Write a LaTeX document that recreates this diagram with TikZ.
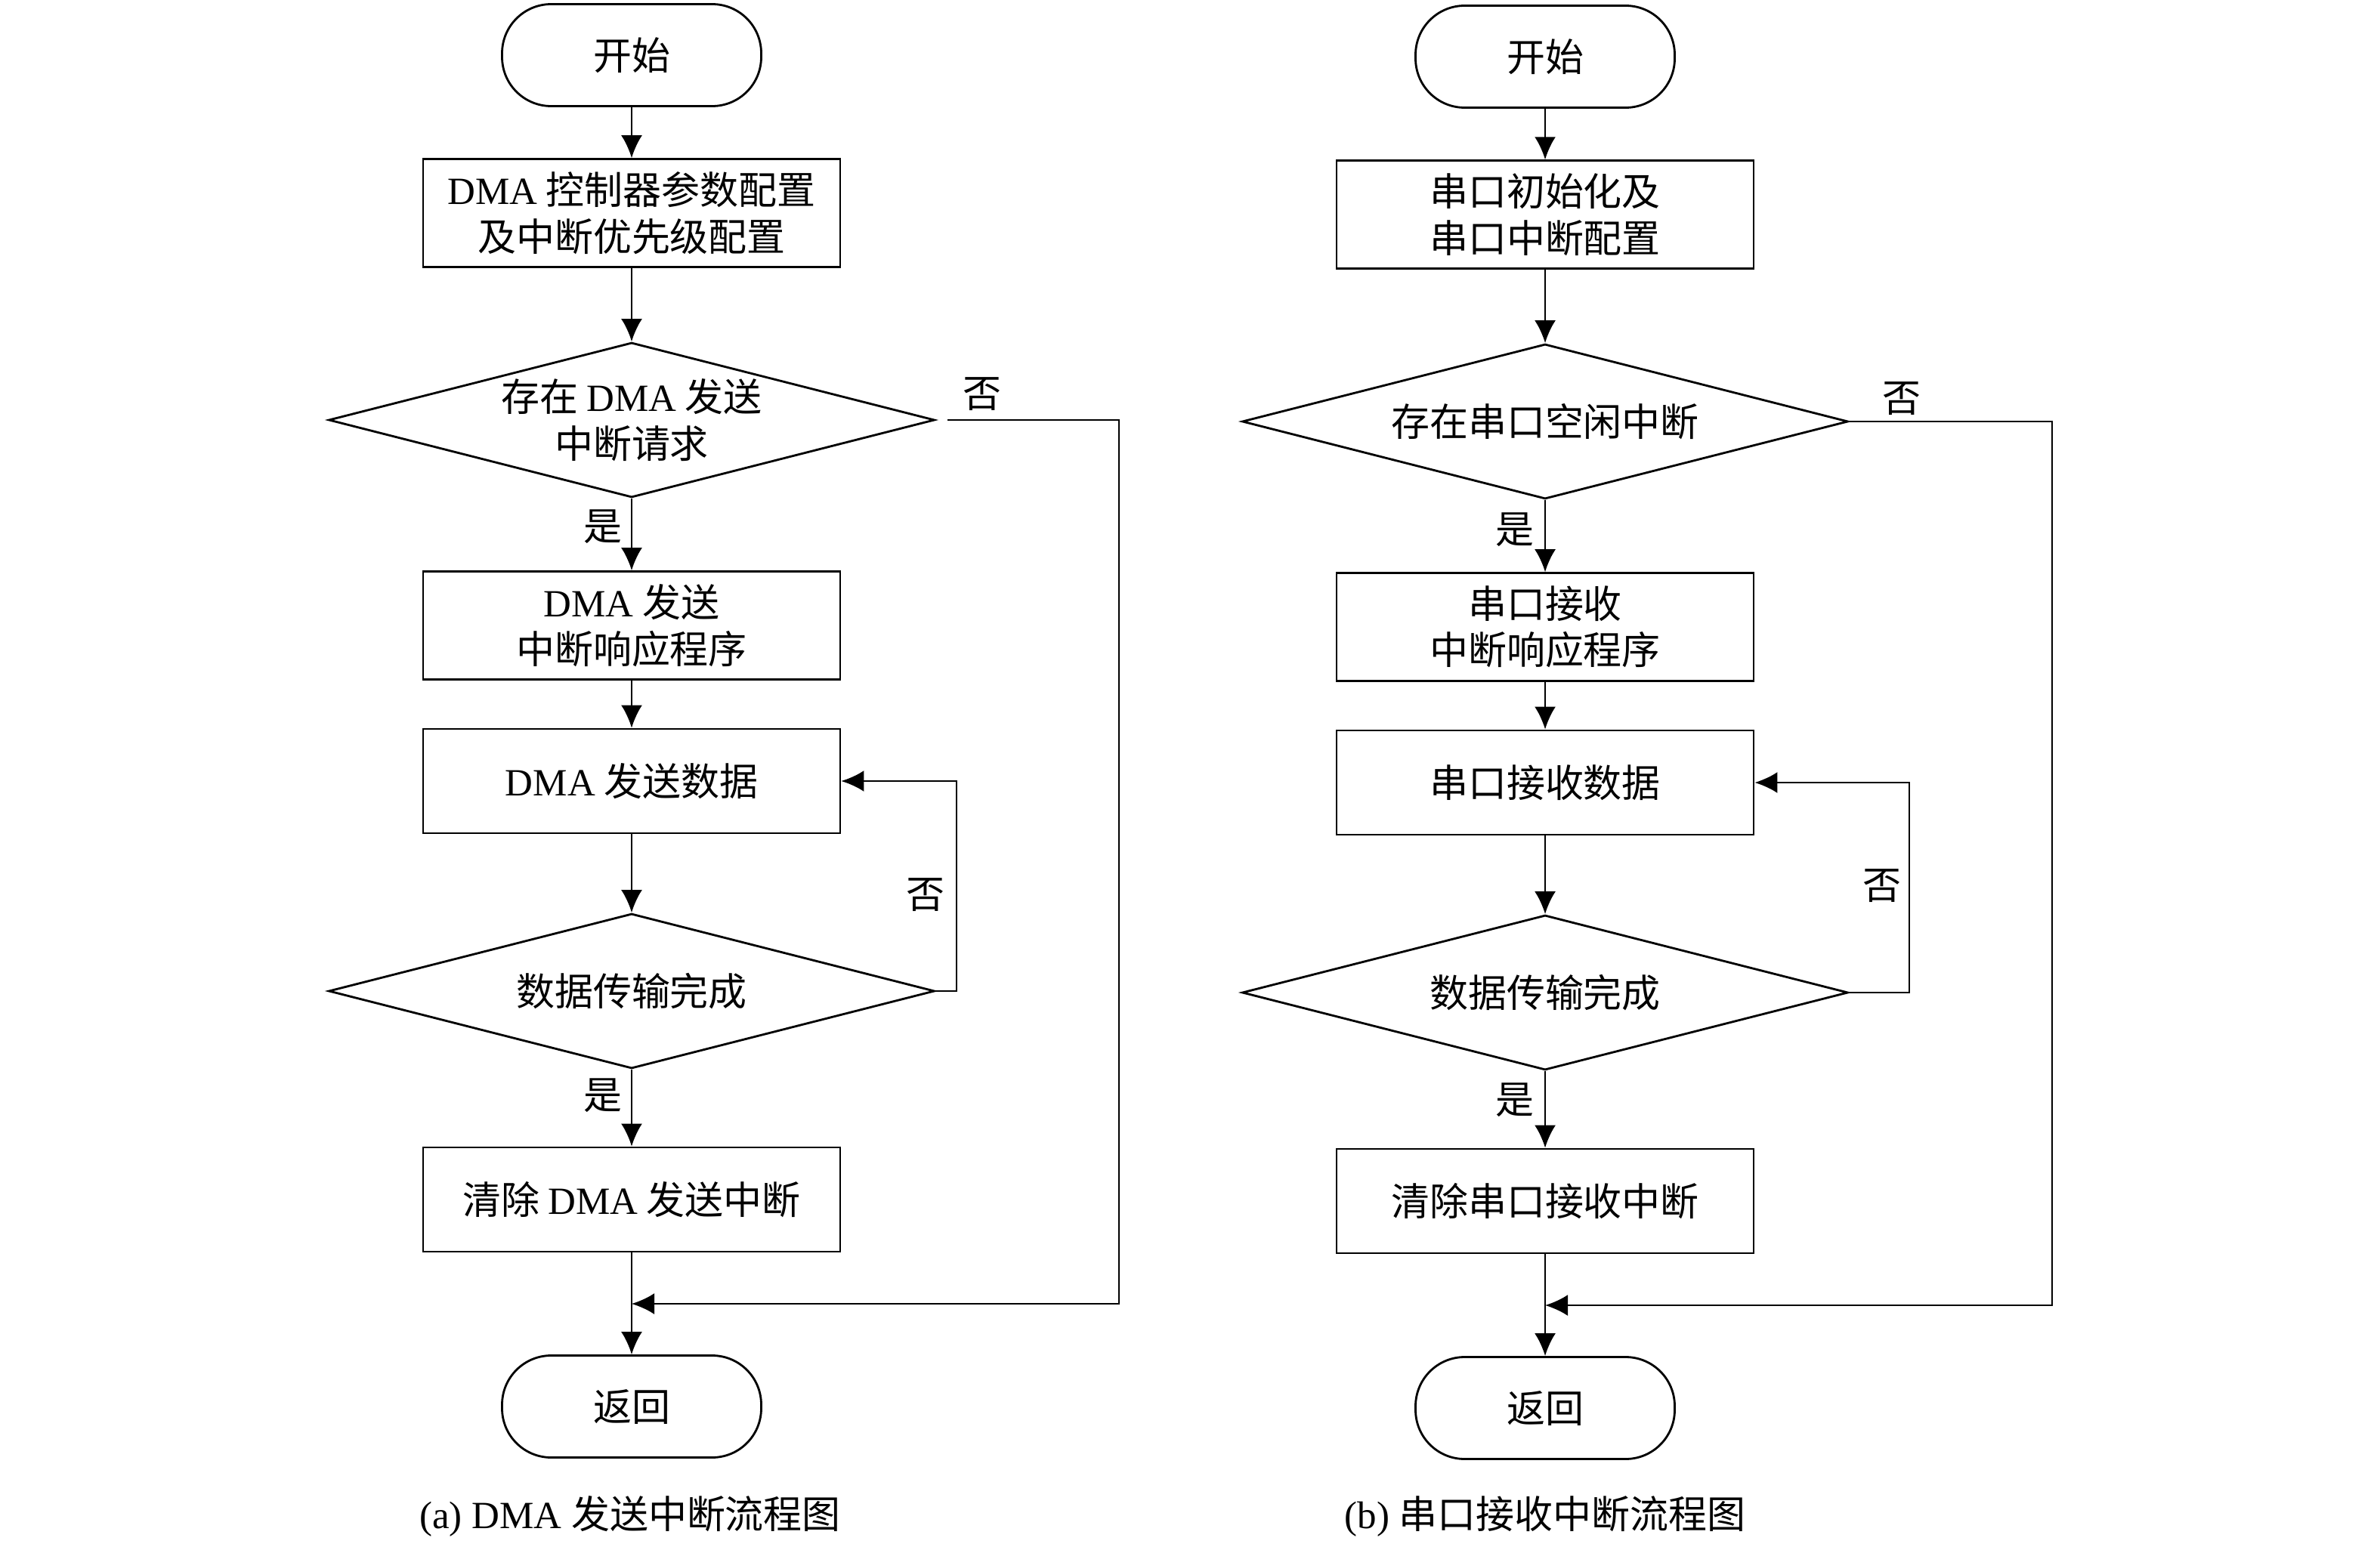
\documentclass[tikz,border=0pt]{standalone}
\usepackage{fontspec}
\setmainfont{Liberation Serif}
\newfontfamily\cjk{Noto Sans CJK SC}
\usetikzlibrary{shapes.geometric,arrows.meta}

\begin{document}
\begin{tikzpicture}[>={Latex[length=3mm,width=2.8mm]},line width=0.8pt]
{\fontsize{14.5}{17.5}\selectfont
  \tikzstyle{term}=[rectangle,draw,rounded corners=6.5mm,minimum width=3.43cm,minimum height=1.35cm,font=\cjk]
  \tikzstyle{proc}=[rectangle,draw,minimum width=5.52cm,minimum height=1.38cm,
  align=center,font=\cjk]
  \tikzstyle{decide}=[diamond,draw,aspect=3.91,minimum width=8.02cm,minimum height=2.05cm,
  inner sep=0pt,align=center,font=\cjk]
  \tikzstyle{lab}=[font=\cjk,inner sep=1pt]

    \useasboundingbox (0,0) rectangle (31.5,-20.47);
    % (a) DMA send
    \node [term] (s1) at (8.36,-0.73) {开始};
    \node [proc] (p1) at (8.36,-2.82) {\textrm{DMA} 控制器参数配置\\及中断优先级配置};
    \node [decide] (d1) at (8.36,-5.56) {存在 \textrm{DMA} 发送\\中断请求};
    \node [proc] (p2) at (8.36,-8.28) {\textrm{DMA} 发送\\中断响应程序};
    \node [proc] (p3) at (8.36,-10.34) {\textrm{DMA} 发送数据};
    \node [decide] (d2) at (8.36,-13.12) {数据传输完成};
    \node [proc] (p4) at (8.36,-15.88) {清除 \textrm{DMA} 发送中断};
    \node [term] (r1) at (8.36,-18.62) {返回};
    \coordinate (m1) at (8.36,-17.26);
    \coordinate (n1) at (14.81,-17.26);
    \coordinate (l1) at (12.66,-13.12);
    \node [lab] (y1) at (7.98,-6.97) {是};
    \node [lab] (y2) at (7.98,-14.50) {是};
    \node [lab] (f1) at (13.00,-5.22) {否};
    \node [lab] (f2) at (12.25,-11.85) {否};
    \node (ca) at (8.34,-20.07) {(a) DMA {\cjk 发送中断流程图}};
    % (b) UART receive
    \node [term] (s2) at (20.45,-0.75) {开始};
    \node [proc] (q1) at (20.45,-2.84) {串口初始化及\\串口中断配置};
    \node [decide] (e1) at (20.45,-5.58) {存在串口空闲中断};
    \node [proc] (q2) at (20.45,-8.30) {串口接收\\中断响应程序};
    \node [proc] (q3) at (20.45,-10.36) {串口接收数据};
    \node [decide] (e2) at (20.45,-13.14) {数据传输完成};
    \node [proc] (q4) at (20.45,-15.90) {清除串口接收中断};
    \node [term] (r2) at (20.45,-18.64) {返回};
    \coordinate (m2) at (20.45,-17.28);
    \coordinate (n2) at (27.16,-17.28);
    \coordinate (l2) at (25.27,-13.14);
    \node [lab] (y3) at (20.05,-7.01) {是};
    \node [lab] (y4) at (20.05,-14.56) {是};
    \node [lab] (f3) at (25.17,-5.28) {否};
    \node [lab] (f4) at (24.91,-11.73) {否};
    \node (cb) at (20.45,-20.07) {(b) {\cjk 串口接收中断流程图}};
\draw [->] (s1) to (p1);
\draw [->] (p1) to (d1);
\draw [->] (d1) to (p2);
\draw [->] (p2) to (p3);
\draw [->] (p3) to (d2);
\draw [->] (d2) to (p4);
\draw [->] (p4) to (r1);
\draw [->,shorten <=1.6mm] (d1.east) -| (n1) -- (m1);
\draw [->] (d2.east) -- (l1) |- (p3.east);
\draw [->] (s2) to (q1);
\draw [->] (q1) to (e1);
\draw [->] (e1) to (q2);
\draw [->] (q2) to (q3);
\draw [->] (q3) to (e2);
\draw [->] (e2) to (q4);
\draw [->] (q4) to (r2);
\draw [->] (e1.east) -| (n2) -- (m2);
\draw [->] (e2.east) -- (l2) |- (q3.east);
}
\end{tikzpicture}
\end{document}
